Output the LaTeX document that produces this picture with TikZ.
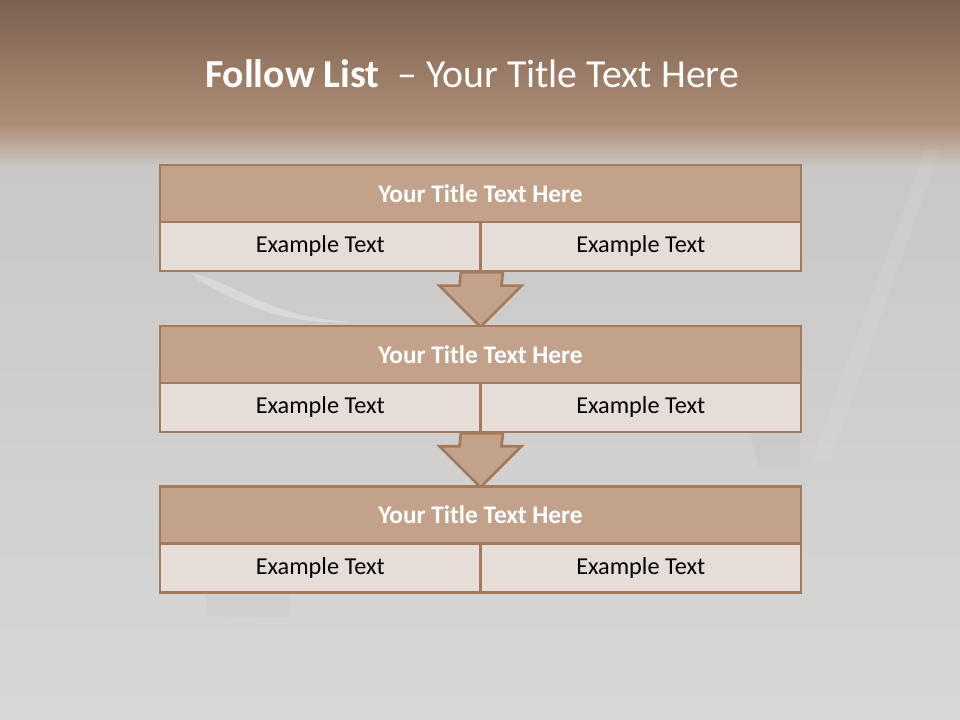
\documentclass[tikz,border=0pt]{standalone}
\usepackage{fontspec}
\setmainfont{Carlito}
\usetikzlibrary{calc}
\definecolor{brd}{HTML}{A47A5B}
\definecolor{ttl}{HTML}{C3A28B}
\definecolor{cellfill}{HTML}{E7DDD8}
\definecolor{bgA}{HTML}{7C6251}
\definecolor{bgB}{HTML}{AF8D75}
\definecolor{bgC}{HTML}{CAC8C6}
\definecolor{bgD}{HTML}{D7D7D7}
\pgfdeclarelayer{bglayer}
\pgfdeclarelayer{arrowlayer}
\pgfsetlayers{bglayer,arrowlayer,main}
\begin{document}
\begin{tikzpicture}[x=0.75pt,y=-0.75pt,
  titlebox/.style={draw=brd, fill=ttl, line width=2pt, minimum width=480.75pt,
    minimum height=42.75pt, inner sep=0pt, text=white,
    font=\fontsize{19}{23}\selectfont\bfseries},
  cellbox/.style={draw=brd, fill=cellfill, line width=2pt, minimum width=240.4pt,
    minimum height=36.75pt, inner sep=0pt, text=black,
    font=\fontsize{18.2}{22}\selectfont},
  flowarrow/.style={draw=brd, fill=ttl, line width=2pt, line join=miter}]
\useasboundingbox (0,0) rectangle (960,720);
% background
\begin{pgfonlayer}{bglayer}
\shade[top color=bgA, bottom color=bgB] (0,0) rectangle (960,125);
\shade[top color=bgB, bottom color=bgC] (0,124.5) rectangle (960,168);
\shade[top color=bgC, bottom color=bgD] (0,167.5) rectangle (960,720);
% faint background picture hints
\fill[white, opacity=0.28] (192,273) .. controls (240,285) and (270,318) .. (353,322)
  .. controls (280,326) and (235,300) .. (198,280) -- cycle;
\fill[black, opacity=0.02] (205,592) -- (290,592) -- (288,618) -- (208,616) -- cycle;
\fill[black, opacity=0.02] (750,432) -- (800,432) -- (800,470) -- (760,470) -- cycle;
\fill[white, opacity=0.06] (925,150) -- (940,150) -- (830,460) -- (812,460) -- cycle;
\end{pgfonlayer}
% main title
\node[anchor=base, text=white, inner sep=0pt, font=\fontsize{29.8}{34}\selectfont]
  (maintitle) at (472,88) {\textbf{Follow List}\ \ –\ Your Title Text Here};
% boxes
\node[titlebox] (t1) at (480.5,193.5) {Your Title Text Here};
\node[cellbox] (c1l) at (320.25,246.5) {Example Text};
\node[cellbox] (c1r) at (640.75,246.5) {Example Text};
\node[titlebox] (t2) at (480.5,354.5) {Your Title Text Here};
\node[cellbox] (c2l) at (320.25,407.5) {Example Text};
\node[cellbox] (c2r) at (640.75,407.5) {Example Text};
\node[titlebox] (t3) at (480.5,515) {Your Title Text Here};
\node[cellbox] (c3l) at (320.25,568) {Example Text};
\node[cellbox] (c3r) at (640.75,568) {Example Text};
% arrows (behind the boxes)
\begin{pgfonlayer}{arrowlayer}
\draw[flowarrow] ($(t2.north)+(0,2)$) -- ++(-41,-41) -- ++(20,0)
  -- ($(c1l.south east)+(-21,0)$) -- ($(c1l.south east)+(21,0)$)
  -- ($(t2.north)+(21,-39)$) -- ++(20,0) -- cycle;
\draw[flowarrow] ($(t3.north)+(0,2)$) -- ++(-41,-41) -- ++(20,0)
  -- ($(c2l.south east)+(-21,0)$) -- ($(c2l.south east)+(21,0)$)
  -- ($(t3.north)+(21,-39)$) -- ++(20,0) -- cycle;
\end{pgfonlayer}
\end{tikzpicture}
\end{document}
